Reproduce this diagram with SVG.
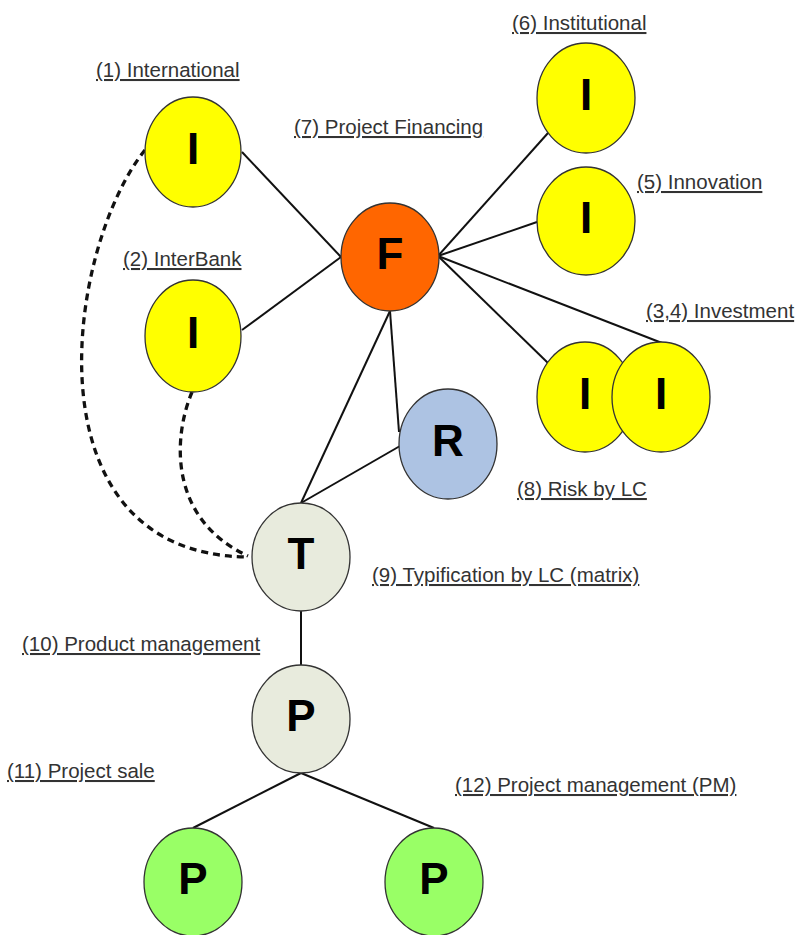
<svg xmlns="http://www.w3.org/2000/svg" width="801" height="935" viewBox="0 0 801 935">
<style>
.lbl{font-family:"Liberation Sans",Arial,sans-serif;font-size:20.5px;fill:#333;text-decoration:underline}
.nd{stroke:#333;stroke-width:1.3}
.let{font-family:"Liberation Sans",Arial,sans-serif;font-size:44px;font-weight:bold;fill:#000;text-anchor:middle}
.yel{fill:#ffff00}
.org{fill:#ff6600}
.blu{fill:#adc3e3}
.gry{fill:#e8ebdd}
.grn{fill:#99ff66}
.ln{stroke:#111;stroke-width:2;fill:none}
.dash{stroke:#111;stroke-width:3.3;fill:none;stroke-dasharray:7 5}
</style>
<rect width="801" height="935" fill="#fff"/>
<g id="connectors">
<line class="ln" x1="242" y1="152" x2="341" y2="257"/>
<line class="ln" x1="242" y1="330" x2="341" y2="257"/>
<line class="ln" x1="438" y1="256" x2="548" y2="133"/>
<line class="ln" x1="438" y1="256" x2="537" y2="222"/>
<line class="ln" x1="438" y1="256" x2="548" y2="363"/>
<line class="ln" x1="438" y1="256" x2="662" y2="343"/>
<line class="ln" x1="390" y1="311" x2="301" y2="503"/>
<line class="ln" x1="390" y1="311" x2="399" y2="432"/>
<line class="ln" x1="400" y1="446" x2="301" y2="503"/>
<line class="ln" x1="301" y1="611" x2="301" y2="666"/>
<line class="ln" x1="301" y1="773" x2="193" y2="828"/>
<line class="ln" x1="301" y1="773" x2="434" y2="828"/>
<path class="dash" d="M145,150 C65,250 25,555 248,557"/>
<path class="dash" d="M192,392 C172,440 170,520 248,556"/>
</g>
<g id="n1"><ellipse class="nd yel" cx="193" cy="152" rx="48" ry="55"/><text class="let" x="193" y="164">I</text><text class="lbl" x="96" y="77">(1) International</text></g>
<g id="n2"><ellipse class="nd yel" cx="193" cy="336" rx="48" ry="56"/><text class="let" x="193" y="348">I</text><text class="lbl" x="123" y="266">(2) InterBank</text></g>
<g id="n6"><ellipse class="nd yel" cx="586" cy="98" rx="49" ry="55"/><text class="let" x="586" y="110">I</text><text class="lbl" x="512" y="30">(6) Institutional</text></g>
<g id="n5"><ellipse class="nd yel" cx="586" cy="221" rx="49" ry="54"/><text class="let" x="586" y="233">I</text><text class="lbl" x="637" y="189">(5) Innovation</text></g>
<g id="n3"><ellipse class="nd yel" cx="585" cy="397" rx="48" ry="55"/><text class="let" x="585" y="409">I</text></g>
<g id="n4"><ellipse class="nd yel" cx="661" cy="397" rx="49" ry="55"/><text class="let" x="661" y="409">I</text><text class="lbl" x="646" y="318">(3,4) Investment</text></g>
<g id="n7"><ellipse class="nd org" cx="390" cy="257" rx="49" ry="54"/><text class="let" x="390" y="269">F</text><text class="lbl" x="294" y="134">(7) Project Financing</text></g>
<g id="n8"><ellipse class="nd blu" cx="448" cy="444" rx="49" ry="55"/><text class="let" x="448" y="456">R</text><text class="lbl" x="517" y="496">(8) Risk by LC</text></g>
<g id="n9"><ellipse class="nd gry" cx="301" cy="557" rx="49" ry="54"/><text class="let" x="301" y="569">T</text><text class="lbl" x="372" y="582">(9) Typification by LC (matrix)</text></g>
<g id="n10"><ellipse class="nd gry" cx="301" cy="719" rx="49" ry="54"/><text class="let" x="301" y="731">P</text><text class="lbl" x="22" y="651">(10) Product management</text></g>
<g id="n11"><ellipse class="nd grn" cx="193" cy="882" rx="49" ry="54"/><text class="let" x="193" y="894">P</text><text class="lbl" x="7" y="778">(11) Project sale</text></g>
<g id="n12"><ellipse class="nd grn" cx="434" cy="882" rx="49" ry="54"/><text class="let" x="434" y="894">P</text><text class="lbl" x="455" y="792">(12) Project management (PM)</text></g>
</svg>
